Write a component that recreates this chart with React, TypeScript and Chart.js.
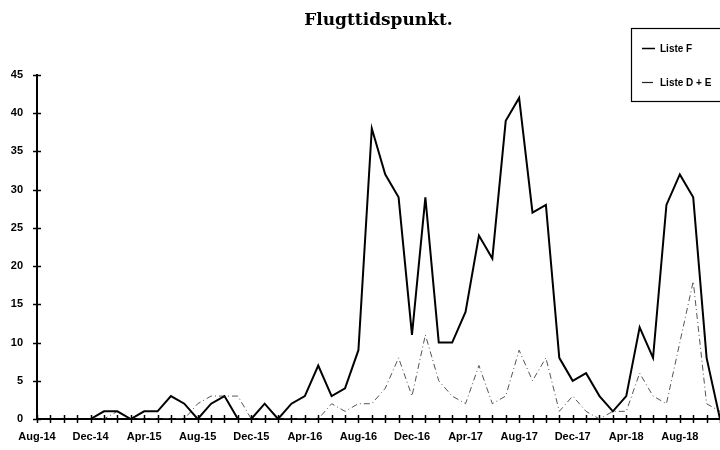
import React, { useEffect, useRef } from "react";
import { Chart, registerables } from "chart.js";

Chart.register(...registerables);

const TITLE = "Flugttidspunkt.";

const MONTHS = [
  "Aug-14", "Sep-14", "Oct-14", "Nov-14", "Dec-14",
  "Jan-15", "Feb-15", "Mar-15", "Apr-15", "May-15", "Jun-15", "Jul-15", "Aug-15", "Sep-15", "Oct-15", "Nov-15", "Dec-15",
  "Jan-16", "Feb-16", "Mar-16", "Apr-16", "May-16", "Jun-16", "Jul-16", "Aug-16", "Sep-16", "Oct-16", "Nov-16", "Dec-16",
  "Jan-17", "Feb-17", "Mar-17", "Apr-17", "May-17", "Jun-17", "Jul-17", "Aug-17", "Sep-17", "Oct-17", "Nov-17", "Dec-17",
  "Jan-18", "Feb-18", "Mar-18", "Apr-18", "May-18", "Jun-18", "Jul-18", "Aug-18", "Sep-18", "Oct-18", "Nov-18",
];

const LISTE_F = [
  0, 0, 0, 0, 0,
  1, 1, 0, 1, 1, 3, 2, 0, 2, 3, 0, 0,
  2, 0, 2, 3, 7, 3, 4, 9, 38, 32, 29, 11,
  29, 10, 10, 14, 24, 21, 39, 42, 27, 28, 8, 5,
  6, 3, 1, 3, 12, 8, 28, 32, 29, 8, 0,
];

const LISTE_DE = [
  0, 0, 0, 0, 0,
  0, 1, 0, 0, 0, 0, 0, 2, 3, 3, 3, 0,
  0, 0, 0, 0, 0, 2, 1, 2, 2, 4, 8, 3,
  11, 5, 3, 2, 7, 2, 3, 9, 5, 8, 1, 3,
  1, 0, 1, 1, 6, 3, 2, 10, 18, 2, 1,
];

const SERIES_NAMES = ["Liste F", "Liste D + E"];
const Y_MAX = 45;
const Y_STEP = 5;
const LABEL_EVERY = 4;

const crossTicks = {
  id: "crossTicks",
  afterDatasetsDraw(chart: any) {
    const { ctx, scales } = chart;
    const xs = scales.x;
    const ys = scales.y;
    ctx.save();
    ctx.strokeStyle = "#000";
    ctx.lineWidth = 1.5;
    const yb = ys.getPixelForValue(0);
    for (let i = 0; i < MONTHS.length; i++) {
      const x = Math.round(xs.getPixelForValue(i)) + 0.5;
      ctx.beginPath();
      ctx.moveTo(x, yb - 4);
      ctx.lineTo(x, yb + 4);
      ctx.stroke();
    }
    const xl = xs.left;
    for (let v = 0; v <= Y_MAX; v += Y_STEP) {
      const y = Math.round(ys.getPixelForValue(v)) + 0.5;
      ctx.beginPath();
      ctx.moveTo(xl - 4, y);
      ctx.lineTo(xl + 4, y);
      ctx.stroke();
    }
    ctx.restore();
  },
};

const boxLegend = {
  id: "boxLegend",
  afterDraw(chart: any) {
    const { ctx } = chart;
    const ds = chart.data.datasets;
    ctx.save();
    ctx.strokeStyle = "#000";
    ctx.lineWidth = 1.2;
    ctx.strokeRect(631.5, 28.5, 100, 73);
    ctx.font = "bold 10px 'Liberation Sans', Arial, sans-serif";
    ctx.textBaseline = "middle";
    ctx.textAlign = "left";
    ctx.fillStyle = "#000";
    const rows = [48, 82];
    ds.forEach((d: any, i: number) => {
      const y = rows[i];
      ctx.beginPath();
      ctx.lineWidth = i === 0 ? 1.5 : 1.2;
      ctx.strokeStyle = i === 0 ? "#000" : "#222";
      ctx.moveTo(642, y + 0.5);
      ctx.lineTo(i === 0 ? 655 : 653, y + 0.5);
      ctx.stroke();
      ctx.fillText(d.label, 660, y + 1);
    });
    ctx.restore();
  },
};

export default function App() {
  const ref = useRef<HTMLCanvasElement | null>(null);

  useEffect(() => {
    const canvas = ref.current;
    if (!canvas) return;
    const chart = new Chart(canvas, {
      type: "line",
      data: {
        labels: MONTHS,
        datasets: [
          {
            label: SERIES_NAMES[0],
            data: LISTE_F,
            borderColor: "#000",
            borderWidth: 2,
            pointRadius: 0,
            tension: 0,
            fill: false,
          },
          {
            label: SERIES_NAMES[1],
            data: LISTE_DE,
            borderColor: "#555",
            borderWidth: 1,
            borderDash: [6, 3, 1, 3],
            pointRadius: 0,
            tension: 0,
            fill: false,
          },
        ],
      },
      options: {
        responsive: false,
        animation: false,
        layout: { padding: { left: 0, right: 0, top: 0, bottom: 0 } },
        plugins: {
          legend: { display: false },
          tooltip: { enabled: false },
          title: {
            display: true,
            text: TITLE,
            fullSize: false,
            color: "#000",
            font: { family: "'DejaVu Serif', serif", size: 17, weight: "bold", lineHeight: 1.2 },
            padding: { top: 10, bottom: 44.6 },
          },
        },
        scales: {
          x: {
            type: "category",
            offset: false,
            grid: { display: false, drawTicks: false },
            border: { display: true, color: "#000", width: 2 },
            afterFit: (scale: any) => {
              scale.height = 31;
              scale.paddingRight = 0;
              scale.paddingLeft = 0;
            },
            ticks: {
              autoSkip: false,
              maxRotation: 0,
              minRotation: 0,
              padding: 11,
              color: "#000",
              font: { family: "'Liberation Sans', Arial, sans-serif", size: 11, weight: "bold" },
              callback: (_v: any, i: number) => (i % LABEL_EVERY === 0 ? MONTHS[i] : ""),
            },
          },
          y: {
            min: 0,
            max: Y_MAX,
            grid: { display: false, drawTicks: false },
            border: { display: true, color: "#000", width: 2 },
            afterFit: (scale: any) => {
              scale.width = 37;
            },
            ticks: {
              stepSize: Y_STEP,
              padding: 14,
              color: "#000",
              font: { family: "'Liberation Sans', Arial, sans-serif", size: 11, weight: "bold" },
            },
          },
        },
      },
      plugins: [crossTicks, boxLegend],
    });
    return () => chart.destroy();
  }, []);

  return (
    <div style={{ position: "absolute", left: 0, top: 0, width: 720, height: 450, background: "#fff" }}>
      <canvas ref={ref} width={720} height={450} style={{ display: "block", width: 720, height: 450 }} />
    </div>
  );
}
